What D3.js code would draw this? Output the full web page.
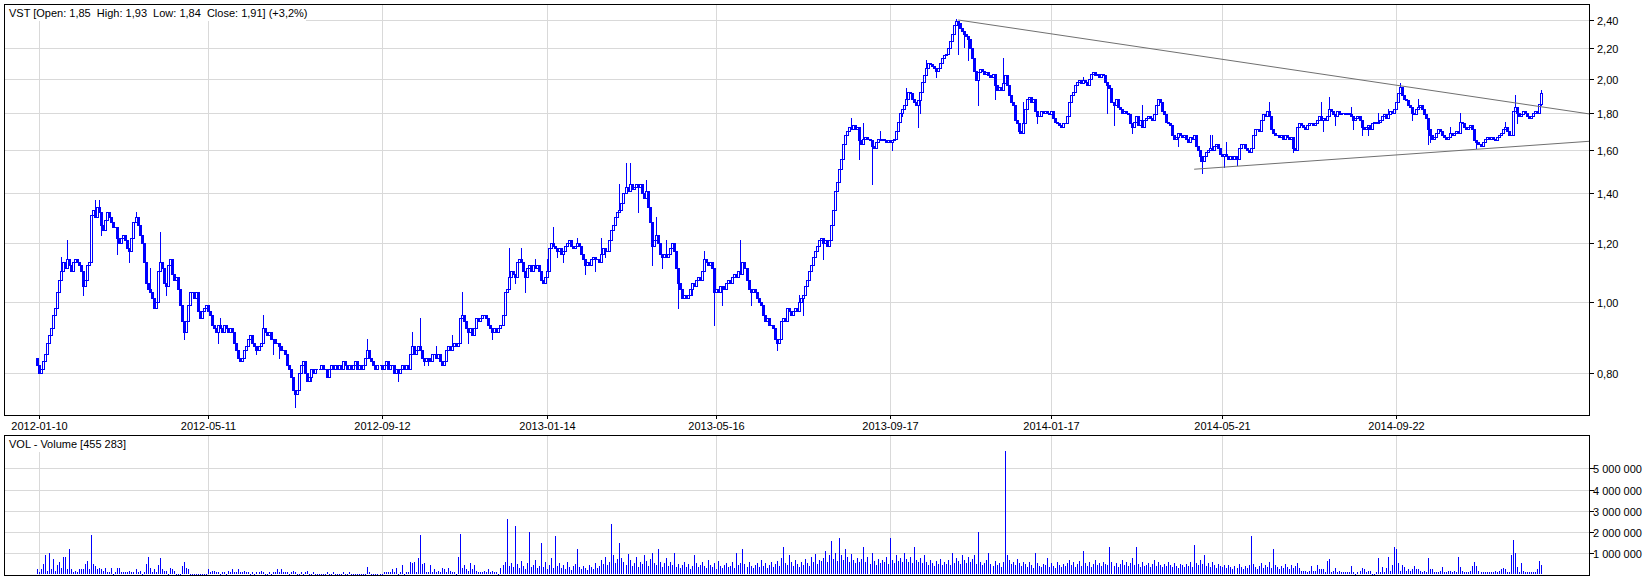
<!DOCTYPE html>
<html>
<head>
<meta charset="utf-8">
<title>VST</title>
<script src="https://cdn.jsdelivr.net/npm/d3@7"></script>
<style>
    body { margin: 0; background: #fff; }
    svg text { font-family: "Liberation Sans", Arial, sans-serif; font-size: 11px; fill: #000; white-space: pre; }
</style>
</head>
<body>
<div id="chart-area"></div>
<script>

// closing prices (grosze), one per session
const closes = [
    82,80,81,83,85,88,90,92,96,98, 103,107,110,113,111,114,112,110,113,114,
    113,112,110,105,107,112,113,131,133,130, 134,132,127,125,129,132,130,128,126,126,
    122,120,122,123,121,118,117,122,128,130, 127,123,120,113,106,104,103,101,98,100,
    110,113,111,106,105,112,114,109,107,108, 104,99,94,91,94,99,103,103,101,103,
    97,95,97,98,99,97,96,93,92,91, 93,92,91,93,92,91,92,91,88,86,
    84,83,84,86,87,89,90,88,87,86, 87,88,92,91,90,91,89,89,88,88,
    87,86,86,85,82,81,79,76,75,76, 80,82,83,80,78,79,81,80,81,81,
    81,82,81,81,79,81,82,81,82,81, 82,81,83,82,81,82,81,82,83,81,
    82,81,82,84,86,84,83,82,81,82, 82,81,82,83,81,82,82,80,81,80,
    81,82,81,82,81,85,87,85,86,87, 86,84,83,84,84,83,85,85,84,85,
    83,82,83,86,87,86,87,88,87,88, 95,96,94,92,91,92,90,92,95,94,
    95,96,96,95,93,92,91,92,91,92, 93,96,103,104,108,110,109,108,113,114,
    113,110,108,111,112,110,112,111,112,110, 107,106,108,110,118,120,119,118,117,118,
    116,117,119,120,121,119,118,119,120,119, 116,114,112,113,112,114,115,114,114,113,
    116,118,117,117,121,125,127,130,132,133, 136,140,143,141,144,142,143,144,143,144,
    140,138,141,134,128,119,121,123,120,116, 115,116,115,116,118,120,117,111,106,104,
    101,102,101,102,104,106,105,107,108,107, 110,114,113,112,113,111,103,104,103,105,
    105,104,106,107,106,108,109,108,110,109, 113,111,107,104,103,104,103,101,100,99,
    96,94,95,93,93,92,89,88,89,94, 95,94,98,97,96,97,98,97,100,101,
    102,105,107,110,112,115,117,119,121,122, 120,121,119,121,127,133,141,145,151,156,
    163,168,170,172,171,173,171,172,165,163, 166,167,166,165,162,161,164,166,165,166,
    165,164,165,164,165,166,170,175,180,182, 184,188,192,191,188,186,184,187,192,198,
    202,207,210,209,208,207,205,207,210,213, 215,216,220,225,230,236,239,238,234,232,
    230,228,226,220,213,205,199,204,206,205, 203,204,202,201,203,196,193,195,193,197,
    202,196,190,186,184,176,174,170,169,174, 182,188,189,186,188,181,178,178,181,180,
    181,180,179,181,177,175,174,173,172,174, 174,178,186,190,192,196,198,199,197,199,
    198,196,200,203,204,202,203,201,203,202, 198,196,194,186,184,188,183,182,180,181,
    180,179,174,172,175,178,173,176,172,176, 177,178,177,176,179,184,188,186,181,179,
    175,174,173,168,166,167,169,168,167,168, 166,164,167,166,168,162,160,157,155,157,
    159,160,161,160,162,163,161,158,157,158, 157,156,157,156,157,156,161,163,163,161,
    160,159,161,168,171,171,170,176,179,178, 181,178,171,169,168,168,167,168,166,168,
    167,166,167,161,160,172,174,173,172,171, 173,174,174,173,174,176,178,176,177,176,
    178,182,181,179,178,181,179,180,180,179, 180,179,178,176,177,178,176,172,171,172,
    173,171,174,175,174,175,176,178,179,177, 179,181,180,182,186,191,195,190,188,187,
    184,183,180,179,182,183,184,182,179,177, 171,168,166,167,169,171,170,168,167,166,
    167,169,168,169,170,169,175,174,172,171, 172,173,171,165,164,163,162,164,166,167,
    166,167,166,165,167,168,169,171,172,170, 168,168,181,183,180,178,179,181,180,178,
    177,178,180,181,180,185,191
];
const firstOpen = 84;

// longer wicks visible on the chart: [session, price in grosze]
const highWicks = [[12,115],[15,121],[29,137],[31,137],[49,132],[56,111],[61,124],[91,95],[112,96],
    [164,89],[186,91],[190,95],[198,87],[206,90],[211,103],[234,118],[240,118],[247,114],[253,114],
    [256,126],[268,122],[280,122],[289,144],[292,154],[294,154],[302,146],[307,130],[312,121],
    [331,117],[349,121],[378,102],[404,177],[410,174],[418,170],[431,194],[441,212],[456,241],
    [479,213],[489,186],[519,201],[548,184],[582,168],[583,168],[590,164],[611,186],[637,186],
    [641,189],[652,183],[665,180],[670,182],[676,197],[685,188],[701,172],[706,180],[728,175],
    [733,190],[746,193]];
const lowWicks = [[23,102],[32,123],[40,116],[46,113],[64,102],[73,89],[90,88],[109,85],[117,85],
    [120,84],[128,72],[136,78],[179,78],[192,82],[194,82],[214,88],[226,89],[237,106],[242,103],
    [258,115],[261,113],[272,109],[277,110],[282,115],[298,132],[305,112],[310,111],[318,98],
    [325,102],[336,93],[340,99],[354,99],[367,86],[380,96],[390,114],[408,156],[414,144],[424,160],
    [429,178],[437,172],[438,180],[446,201],[457,216],[460,221],[462,212],[467,184],[475,188],
    [487,169],[496,174],[531,180],[534,173],[543,169],[566,162],[577,155],[578,149],[589,152],
    [595,153],[623,159],[638,170],[644,173],[653,171],[657,168],[660,168],[682,176],[690,163],
    [691,164],[714,161],[734,174],[746,184]];

// volume per session, in 10 000 shares
const volumes = [
    24,10,24,52,94,19,103,28,75,19, 47,61,33,85,85,24,122,28,10,19,
    10,24,24,28,52,66,24,188,52,42, 24,33,28,19,33,10,14,33,5,10,
    33,33,14,14,14,10,19,14,10,24, 14,19,5,14,52,85,33,14,24,10,
    47,80,28,19,19,5,33,24,19,5, 5,5,42,61,33,28,5,5,5,5,
    5,5,5,5,5,24,14,19,19,14, 10,5,14,10,5,19,10,24,14,10,
    24,14,10,19,14,10,5,10,5,14, 10,19,10,5,5,10,5,14,10,24,
    14,24,10,14,10,5,10,19,10,5, 5,10,5,10,19,5,5,10,5,5,
    5,5,5,5,10,5,5,10,5,5, 5,5,10,5,5,10,5,5,5,5,
    5,5,5,5,38,10,5,5,5,5, 5,5,10,10,10,14,24,10,33,5,
    10,47,5,10,14,60,55,60,14,80, 188,50,55,10,10,47,10,24,14,19,
    14,33,24,10,33,19,10,10,5,85, 192,33,45,24,19,55,24,45,19,14,
    14,10,19,10,24,14,19,10,10,5, 30,45,60,260,40,55,35,230,50,30,
    65,40,25,55,200,35,45,70,30,40, 150,35,60,25,45,80,30,180,40,55,
    30,45,25,60,35,20,40,50,120,35, 25,40,30,20,45,35,25,55,30,40,
    70,50,85,45,60,240,90,55,75,150, 80,60,45,95,70,40,55,85,35,60,
    50,90,65,40,75,100,55,45,120,60, 35,55,80,40,60,45,100,35,50,30,
    45,60,35,50,25,40,90,55,35,45, 60,40,30,70,45,35,55,25,65,40,
    30,45,55,35,40,60,30,100,45,55, 120,50,35,60,40,30,45,55,35,70,
    40,55,30,45,60,35,50,65,40,80, 130,55,45,90,60,40,70,50,35,60,
    45,75,55,40,85,60,95,50,70,65, 80,110,60,90,160,75,100,65,170,90,
    70,120,85,60,95,70,55,80,60,75, 130,60,85,50,100,65,45,75,55,70,
    60,85,50,170,70,55,90,65,80,60, 100,75,60,85,55,130,70,60,80,55,
    90,60,45,70,55,40,65,50,75,45, 60,50,70,45,100,55,80,65,50,90,
    70,55,85,60,75,90,50,200,60,45, 55,70,100,50,40,65,45,55,35,60,
    580,90,70,50,60,45,75,55,40,60, 50,35,60,45,30,100,55,40,35,50,
    45,80,35,55,40,30,60,45,35,50, 40,55,70,45,60,35,50,65,40,110,
    55,40,60,35,50,70,45,55,40,60, 50,45,130,60,40,55,35,50,70,45,
    60,40,55,80,45,130,50,35,60,40, 45,55,35,50,70,40,60,45,35,50,
    40,60,45,35,55,40,30,50,45,35, 50,40,60,35,140,55,45,70,50,90,
    40,55,35,60,45,30,50,40,35,45, 30,45,35,25,40,30,50,35,25,40,
    30,45,180,50,35,25,40,55,30,45, 35,60,30,120,45,35,25,40,30,50,
    35,25,45,30,40,55,30,19,19,19, 14,19,42,19,19,47,24,24,24,14,
    66,75,14,19,33,14,19,14,10,14, 10,10,42,10,5,14,19,33,24,14,
    19,19,5,5,10,80,14,38,14,33, 85,19,47,132,122,56,19,47,38,19,
    24,19,24,42,24,24,19,14,19,10, 80,24,24,14,10,14,19,38,14,10,
    19,19,10,19,10,85,38,19,14,10, 10,19,42,61,42,19,10,14,10,10,
    10,10,10,19,10,19,24,33,24,10, 10,94,165,103,38,10,56,19,10,10,
    10,10,10,10,28,66,46
];

// sessions: weekdays without exchange holidays
const firstDay = "2012-01-09";
const lastDay = "2015-01-09";
const holidays = [
    "2012-04-06","2012-04-09","2012-05-01","2012-05-03","2012-06-07","2012-08-15","2012-11-01",
    "2012-12-24","2012-12-25","2012-12-26","2012-12-31",
    "2013-01-01","2013-03-29","2013-04-01","2013-05-01","2013-05-03","2013-05-30","2013-08-15",
    "2013-11-01","2013-11-11","2013-12-24","2013-12-25","2013-12-26","2013-12-31",
    "2014-01-01","2014-01-06","2014-04-18","2014-04-21","2014-05-01","2014-06-19","2014-08-15",
    "2014-11-11","2014-12-24","2014-12-25","2014-12-26","2014-12-31",
    "2015-01-01","2015-01-06"
];

const dateTicks = ["2012-01-10","2012-05-11","2012-09-12","2013-01-14","2013-05-16",
    "2013-09-17","2014-01-17","2014-05-21","2014-09-22"];
const priceTicks = [0.8, 1.0, 1.2, 1.4, 1.6, 1.8, 2.0, 2.2, 2.4];
const volumeTicks = [1000000, 2000000, 3000000, 4000000, 5000000];

// trend lines drawn on the chart: [session, price]
const upperTrend = [[457, 2.40], [770, 1.792]];
const lowerTrend = [[574, 1.509], [770, 1.646]];

const titleText = "VST [Open: 1,85  High: 1,93  Low: 1,84  Close: 1,91] (+3,2%)";
const volumeTitle = "VOL - Volume [455 283]";


class CandleVis {
    constructor(parentElement) {
        this.parentElement = parentElement;
        this.initVis();
    }

    initVis() {
        let vis = this;

        vis.width = 1649;
        vis.height = 579;

        // panel boxes
        vis.main = {left: 4.5, right: 1589.5, top: 4.5, bottom: 415.5};
        vis.vol = {left: 4.5, right: 1589.5, top: 435.5, bottom: 575.5};

        vis.svg = d3.select("#" + vis.parentElement).append("svg")
            .attr("width", vis.width)
            .attr("height", vis.height);

        // scales
        vis.x = d3.scaleLinear()
            .domain([0, closes.length - 1])
            .range([36.7, 1541]);

        vis.y = d3.scaleLog()
            .domain([0.8, 2.4])
            .range([373.3, 20]);

        vis.yVol = d3.scaleLinear()
            .domain([0, 5000000])
            .range([574.6, 468.3]);

        vis.svg.append("clipPath")
            .attr("id", "main-clip")
            .append("rect")
            .attr("x", vis.main.left)
            .attr("y", vis.main.top)
            .attr("width", vis.main.right - vis.main.left)
            .attr("height", vis.main.bottom - vis.main.top);

        vis.wrangleData();
    }

    wrangleData() {
        let vis = this;

        // trading calendar
        let holidaySet = new Set(holidays);
        let fmt = d3.utcFormat("%Y-%m-%d");
        let start = new Date(firstDay + "T00:00:00Z");
        let end = d3.utcDay.offset(new Date(lastDay + "T00:00:00Z"), 1);
        vis.sessions = d3.utcDay.range(start, end)
            .filter(d => d.getUTCDay() !== 0 && d.getUTCDay() !== 6)
            .map(d => fmt(d))
            .filter(d => !holidaySet.has(d));

        let highMap = new Map(highWicks);
        let lowMap = new Map(lowWicks);

        vis.displayData = closes.map((c, i) => {
            let open = (i === 0 ? firstOpen : closes[i - 1]) / 100;
            let close = c / 100;
            let high = Math.max(open, close, (highMap.get(i) || 0) / 100);
            let low = Math.min(open, close, (lowMap.get(i) || 999) / 100);
            return {i: i, open: open, close: close, high: high, low: low, volume: volumes[i] * 10000};
        });

        vis.tickData = dateTicks
            .map(d => ({label: d, i: vis.sessions.indexOf(d)}))
            .filter(d => d.i >= 0);

        vis.updateVis();
    }

    updateVis() {
        let vis = this;
        let px = v => Math.round(v) + 0.5;
        let grid = "#d9d9d9";
        let blue = "#0000ff";

        // horizontal grid, price panel
        vis.svg.append("g").selectAll("line")
            .data(priceTicks)
            .enter().append("line")
            .attr("x1", vis.main.left)
            .attr("x2", vis.main.right)
            .attr("y1", d => px(vis.y(d)))
            .attr("y2", d => px(vis.y(d)))
            .attr("stroke", grid);

        // horizontal grid, volume panel
        vis.svg.append("g").selectAll("line")
            .data(volumeTicks)
            .enter().append("line")
            .attr("x1", vis.vol.left)
            .attr("x2", vis.vol.right)
            .attr("y1", d => px(vis.yVol(d)))
            .attr("y2", d => px(vis.yVol(d)))
            .attr("stroke", grid);

        // vertical grid in both panels
        [vis.main, vis.vol].forEach(p => {
            vis.svg.append("g").selectAll("line")
                .data(vis.tickData)
                .enter().append("line")
                .attr("x1", d => px(vis.x(d.i)))
                .attr("x2", d => px(vis.x(d.i)))
                .attr("y1", p.top)
                .attr("y2", p.bottom)
                .attr("stroke", grid);
        });

        // candles
        let candles = vis.svg.append("g")
            .attr("clip-path", "url(#main-clip)");

        candles.selectAll(".wick")
            .data(vis.displayData)
            .enter().append("line")
            .attr("class", "wick")
            .attr("x1", d => Math.round(vis.x(d.i)) + 0.5)
            .attr("x2", d => Math.round(vis.x(d.i)) + 0.5)
            .attr("y1", d => Math.round(vis.y(d.high)))
            .attr("y2", d => Math.round(vis.y(d.low)) + 1)
            .attr("stroke", blue);

        candles.selectAll(".body")
            .data(vis.displayData)
            .enter().append("rect")
            .attr("class", "body")
            .attr("x", d => Math.round(vis.x(d.i)) - 0.5)
            .attr("y", d => px(vis.y(Math.max(d.open, d.close))))
            .attr("width", 2)
            .attr("height", d => Math.round(vis.y(Math.min(d.open, d.close))) - Math.round(vis.y(Math.max(d.open, d.close))))
            .attr("fill", d => d.close >= d.open ? "#fff" : blue)
            .attr("stroke", blue);

        // trend lines
        let trendLine = d3.line()
            .x(d => vis.x(d[0]))
            .y(d => vis.y(d[1]));

        [upperTrend, lowerTrend].forEach(t => {
            candles.append("path")
                .datum(t)
                .attr("d", trendLine)
                .attr("fill", "none")
                .attr("stroke", "#707070");
        });

        // volume bars
        vis.svg.append("g").selectAll("rect")
            .data(vis.displayData)
            .enter().append("rect")
            .attr("x", d => Math.round(vis.x(d.i)))
            .attr("y", d => Math.round(vis.yVol(d.volume)))
            .attr("width", 1)
            .attr("height", d => Math.max(1, 574 - Math.round(vis.yVol(d.volume))))
            .attr("fill", blue);

        // panel frames
        [vis.main, vis.vol].forEach(p => {
            vis.svg.append("rect")
                .attr("x", p.left)
                .attr("y", p.top)
                .attr("width", p.right - p.left)
                .attr("height", p.bottom - p.top)
                .attr("fill", "none")
                .attr("stroke", "#000");
        });

        // price axis (right)
        let yAxis = vis.svg.append("g");
        yAxis.selectAll("line")
            .data(priceTicks)
            .enter().append("line")
            .attr("x1", 1590)
            .attr("x2", 1594)
            .attr("y1", d => px(vis.y(d)))
            .attr("y2", d => px(vis.y(d)))
            .attr("stroke", "#000");
        yAxis.selectAll("text")
            .data(priceTicks)
            .enter().append("text")
            .attr("x", 1597)
            .attr("y", d => Math.round(vis.y(d)) + 4.5)
            .text(d => d3.format(".2f")(d).replace(".", ","));

        // volume axis (right)
        let vAxis = vis.svg.append("g");
        vAxis.selectAll("line")
            .data(volumeTicks)
            .enter().append("line")
            .attr("x1", 1590)
            .attr("x2", 1594)
            .attr("y1", d => px(vis.yVol(d)))
            .attr("y2", d => px(vis.yVol(d)))
            .attr("stroke", "#000");
        vAxis.selectAll("text")
            .data(volumeTicks)
            .enter().append("text")
            .attr("x", 1593)
            .attr("y", d => Math.round(vis.yVol(d)) + 4.5)
            .text(d => d3.format(",")(d).replace(/,/g, " "));

        // date axis
        let xAxis = vis.svg.append("g");
        xAxis.selectAll("line")
            .data(vis.tickData)
            .enter().append("line")
            .attr("x1", d => px(vis.x(d.i)))
            .attr("x2", d => px(vis.x(d.i)))
            .attr("y1", 416)
            .attr("y2", 419)
            .attr("stroke", "#000");
        xAxis.selectAll("text")
            .data(vis.tickData)
            .enter().append("text")
            .attr("x", d => px(vis.x(d.i)))
            .attr("y", 430)
            .attr("text-anchor", "middle")
            .text(d => d.label);

        // titles on white boxes
        vis.svg.append("rect")
            .attr("x", 5).attr("y", 5)
            .attr("width", 301).attr("height", 16)
            .attr("fill", "#fff");
        vis.svg.append("text")
            .attr("x", 9)
            .attr("y", 17)
            .text(titleText);

        vis.svg.append("rect")
            .attr("x", 5).attr("y", 436)
            .attr("width", 121).attr("height", 16)
            .attr("fill", "#fff");
        vis.svg.append("text")
            .attr("x", 9)
            .attr("y", 448)
            .text(volumeTitle);
    }
}

new CandleVis("chart-area");
</script>
</body>
</html>
